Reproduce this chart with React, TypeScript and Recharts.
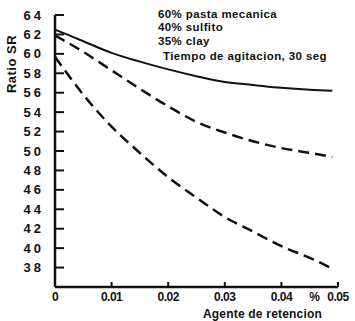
import React from 'react';
import { LineChart, Line, XAxis, YAxis, Label } from 'recharts';

// Retention agent dosage (%) and the SR ratio measured for three stocks
const dosage = [0, 0.005, 0.01, 0.015, 0.02, 0.025, 0.03, 0.035, 0.04, 0.045, 0.049];
const solidRatio = [62.5, 61.3, 60.1, 59.2, 58.4, 57.7, 57.1, 56.8, 56.5, 56.3, 56.2];
const midRatio = [61.9, 60.2, 58.3, 56.4, 54.6, 53.0, 51.9, 51.0, 50.3, 49.8, 49.4];
const steepRatio = [59.7, 55.8, 52.5, 49.8, 47.3, 45.2, 43.2, 41.7, 40.2, 39.0, 37.9];

const yTicks = [38, 40, 42, 44, 46, 48, 50, 52, 54, 56, 58, 60, 62, 64];
const xTicks = [0, 0.01, 0.02, 0.03, 0.04, 0.05];
const xTickLabels = ['0', '0.01', '0.02', '0.03', '0.04', '0.05'];

const noteLines = ['60% pasta mecanica', '40% sulfito', '35% clay', 'Tiempo de agitacion, 30 seg'];

const data = dosage.map((d, i) => ({
  d,
  solid: solidRatio[i],
  mid: midRatio[i],
  steep: steepRatio[i],
}));

const INK = '#111';
const FONT = '"Liberation Sans", Arial, sans-serif';

const YTick = (props: any) => {
  const { x, y, payload } = props;
  return (
    <text x={x + 3} y={y} dy={4.5} textAnchor="end" fill={INK}
      fontFamily={FONT} fontWeight="bold" fontSize={13} letterSpacing={3}>
      {payload.value}
    </text>
  );
};

const XTick = (props: any) => {
  const { x, y, index } = props;
  const isLast = index === xTicks.length - 1;
  return (
    <g>
      {isLast && (
        <text x={x - 18} y={y} dy={9} textAnchor="end" fill={INK}
          fontFamily={FONT} fontWeight="bold" fontSize={12}>%</text>
      )}
      <text x={x} y={y} dy={9} textAnchor="middle" fill={INK}
        fontFamily={FONT} fontWeight="bold" fontSize={12} letterSpacing={-0.5}>
        {xTickLabels[index]}
      </text>
    </g>
  );
};

export default function App() {
  return (
    <div style={{ position: 'absolute', left: 0, top: 0, width: 355, height: 321, background: '#fff' }}>
      <LineChart width={355} height={321} data={data}
        margin={{ top: 15, right: 17, bottom: 0, left: 0 }}>
        {/* negative tick sizes turn the tick marks into the plot */}
        <XAxis dataKey="d" type="number" domain={[0, 0.05]} ticks={xTicks}
          axisLine={{ stroke: INK, strokeWidth: 2.5 }}
          tickLine={{ stroke: INK, strokeWidth: 2 }}
          tickSize={-5} tickMargin={10} height={34} tick={<XTick />} interval={0}>
          <Label value="Agente de retencion" position="insideBottom" offset={3}
            dx={66} fill={INK} fontFamily={FONT} fontWeight="bold" fontSize={12}
            letterSpacing={0.2} />
        </XAxis>
        <YAxis type="number" domain={[36, 64]} ticks={yTicks} width={55}
          axisLine={{ stroke: INK, strokeWidth: 2.5 }}
          tickLine={{ stroke: INK, strokeWidth: 2 }}
          tickSize={-9} tickMargin={23} tick={<YTick />} interval={0}>
          <Label value="Ratio SR" position="insideTopLeft"
            content={() => (
              <text x={16} y={64} transform="rotate(-90 16 64)" textAnchor="middle"
                fill={INK} fontFamily={FONT} fontWeight="bold" fontSize={13}
                letterSpacing={0.5}>
                Ratio SR
              </text>
            )} />
        </YAxis>
        <Line dataKey="solid" type="monotone" stroke={INK} strokeWidth={2}
          dot={false} isAnimationActive={false} />
        <Line dataKey="mid" type="monotone" stroke={INK} strokeWidth={2.5}
          strokeDasharray="11 6" dot={false} isAnimationActive={false} />
        <Line dataKey="steep" type="monotone" stroke={INK} strokeWidth={2.5}
          strokeDasharray="11 6" dot={false} isAnimationActive={false} />
      </LineChart>
      <div style={{ position: 'absolute', left: 158, top: 8, fontFamily: FONT,
        fontWeight: 'bold', fontSize: 11.5, letterSpacing: 0.4, lineHeight: '12.5px',
        color: INK, whiteSpace: 'nowrap' }}>
        {noteLines.map((t, i) => (
          <div key={t} style={{ paddingLeft: i === 3 ? 5 : 0, marginTop: i >= 2 ? 2 : 0 }}>{t}</div>
        ))}
      </div>
    </div>
  );
}
